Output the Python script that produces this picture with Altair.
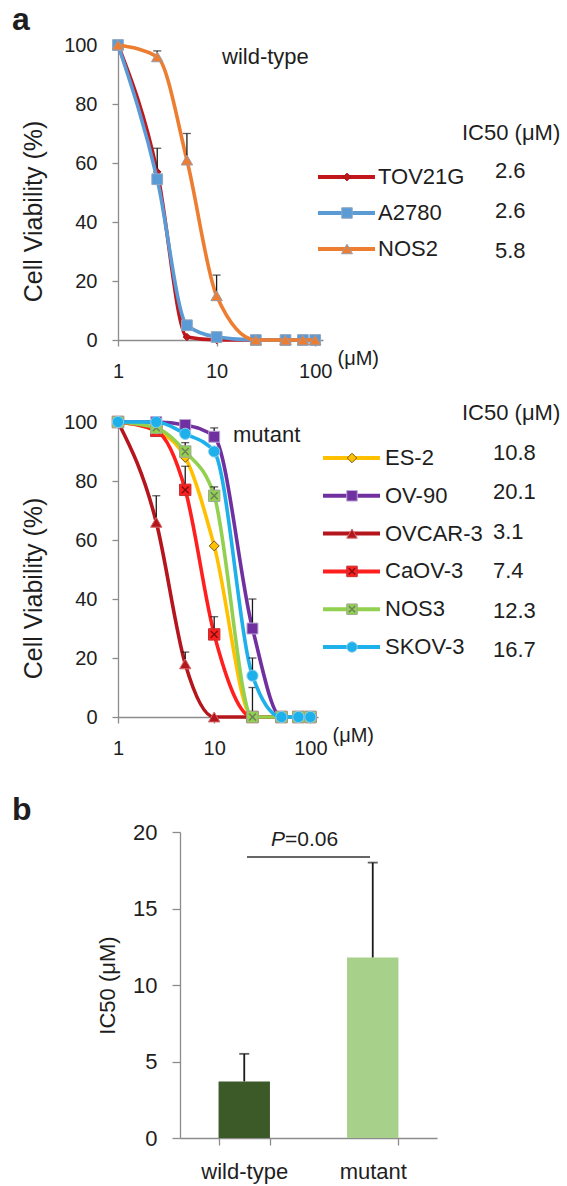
import altair as alt
import pandas as pd

FONT = "Liberation Sans, Arial, sans-serif"
TXT = "#1e1e1e"
AX = "#8c8c8c"
ERRC = "#1a1a1a"
XPATH = "M-0.6,-0.6L0.6,0.6M-0.6,0.6L0.6,-0.6"

# concentrations (uM)
conc = [1, 2.5, 5, 10, 25, 50, 75, 100]

# ---- wild-type panel ----
wt_names = ["TOV21G", "A2780", "NOS2"]
wt_ic50 = ["2.6", "2.6", "5.8"]
wt_values = [
    [100, 57, 1, 0, 0, 0, 0, 0],
    [100, 54.5, 5, 1, 0, 0, 0, 0],
    [100, 96, 61, 15, 0, 0, 0, 0],
]
wt_err = [
    [0, 8, 0, 0, 0, 0, 0, 0],
    [0, 0, 0, 0, 0, 0, 0, 0],
    [0, 2, 9, 7, 0, 0, 0, 0],
]
wt_colors = ["#c0161c", "#5b9bd5", "#ed7d31"]
wt_edges = ["#a01515", "#8ea6c2", "#9a9aa6"]
wt_shapes = ["diamond", "square", "triangle-up"]
wt_sizes = [55, 115, 130]
wt_cross = [None, None, None]

# ---- mutant panel ----
mut_names = ["ES-2", "OV-90", "OVCAR-3", "CaOV-3", "NOS3", "SKOV-3"]
mut_ic50 = ["10.8", "20.1", "3.1", "7.4", "12.3", "16.7"]
mut_values = [
    [100, 97, 88, 58, 0, 0, 0, 0],
    [100, 100, 99, 95, 30, 0, 0, 0],
    [100, 66, 18, 0, 0, 0, 0, 0],
    [100, 97, 77, 28, 0, 0, 0, 0],
    [100, 98, 90, 75, 0, 0, 0, 0],
    [100, 100, 96, 90, 14, 0, 0, 0],
]
mut_err = [
    [0, 0, 3, 0, 0, 0, 0, 0],
    [0, 0, 0, 3, 10, 0, 0, 0],
    [0, 9, 4, 0, 0, 0, 0, 0],
    [0, 0, 8, 6, 0, 0, 0, 0],
    [0, 0, 3, 3, 10, 0, 0, 0],
    [0, 0, 0, 0, 6, 0, 0, 0],
]
mut_colors = ["#ffc000", "#7030a0", "#b5151d", "#ff1f1f", "#92d050", "#1db0ea"]
mut_edges = ["#7a5a1a", "#b9a6d4", "#d36a6a", "#c43030", "#9fa894", "#86cdef"]
mut_shapes = ["diamond", "square", "triangle-up", "square", "square", "circle"]
mut_sizes = [100, 120, 130, 130, 130, 125]
mut_cross = [None, None, None, "#7a1010", "#6e7d5c", None]

# ---- IC50 bar panel ----
groups = ["wild-type", "mutant"]
ic50_mean = [3.7, 11.8]
ic50_sd = [1.8, 6.2]
bar_colors = ["#3b5a27", "#a7d18b"]
p_label = ["P", "=0.06"]


def long_df(names, values, errs):
    rows = []
    for n, vals, es in zip(names, values, errs):
        for c, v, e in zip(conc, vals, es):
            rows.append({"series": n, "conc": c, "v": v, "top": v + e, "err": e})
    return pd.DataFrame(rows)


def text_layer(txt, x, y, size=22, weight="normal", align="left", baseline="alphabetic", style="normal"):
    return alt.Chart(pd.DataFrame({"t": [txt]})).mark_text(
        fontSize=size, fontWeight=weight, align=align, baseline=baseline,
        fontStyle=style, font=FONT, color=TXT
    ).encode(text="t:N", x=alt.value(x), y=alt.value(y))


def legend_layers(names, ic50, colors, edges, shapes, sizes, cross, row_y, val_y, lx0, lx1, mx, nx, vx, hx, hy):
    """Manual legend (guide) with the IC50 column."""
    layers = []
    for i, n in enumerate(names):
        sub = alt.Chart(pd.DataFrame({"series": [n], "ic50": [ic50[i]]}))
        ry = alt.value(row_y[i])
        layers.append(sub.mark_rule(color=colors[i], strokeWidth=4)
                      .encode(x=alt.value(lx0), x2=alt.value(lx1), y=ry))
        layers.append(sub.mark_point(shape=shapes[i], filled=True, size=sizes[i], color=colors[i],
                                     fill=colors[i], stroke=edges[i], strokeWidth=1, opacity=1)
                      .encode(x=alt.value(mx), y=ry))
        if cross[i]:
            layers.append(sub.mark_point(shape=XPATH, filled=False, size=sizes[i], color=cross[i],
                                         stroke=cross[i], strokeWidth=1.4, opacity=1)
                          .encode(x=alt.value(mx), y=ry))
        layers.append(sub.mark_text(fontSize=22, align="left", baseline="middle", font=FONT, color=TXT)
                      .encode(text="series:N", x=alt.value(nx), y=ry))
        layers.append(sub.mark_text(fontSize=22, align="left", baseline="middle", font=FONT, color=TXT)
                      .encode(text="ic50:N", x=alt.value(vx), y=alt.value(val_y[i])))
    layers.append(text_layer("IC50 (μM)", hx, hy, baseline="middle"))
    return layers


def curve_panel(names, values, errs, colors, edges, shapes, sizes, cross, width, height, notes, legend):
    df = long_df(names, values, errs)
    xs = alt.Scale(type="log", domain=[1, 120], nice=False)
    ys = alt.Scale(domain=[0, 100], nice=False)
    xax = alt.Axis(values=[1, 10, 100], format="~g", labelFlush=False, labelOverlap=False,
                   tickSize=6, labelPadding=15, labelFontSize=20,
                   title="(μM)", titleX=width + 14, titleY=18, titleAlign="left",
                   titleBaseline="middle", titleFontSize=20, titleFontWeight="normal", titleAngle=0)
    yax = alt.Axis(values=[0, 20, 40, 60, 80, 100], tickSize=6, labelPadding=15, labelFontSize=20,
                   title="Cell Viability (%)", titleFontSize=25, titleFontWeight="normal",
                   titleX=-85, titleY=166, titleAngle=270, titleAlign="center", titleBaseline="middle")
    X = alt.X("conc:Q", scale=xs, axis=xax)

    def Y(f):
        return alt.Y(f + ":Q", scale=ys, axis=yax)

    layers = []
    for i, n in enumerate(names):
        sub = df[df.series == n]
        base = alt.Chart(sub)
        layers.append(base.mark_line(color=colors[i], strokeWidth=3.6, interpolate="monotone")
                      .encode(x=X, y=Y("v")))
        e = sub[sub.err > 0]
        if len(e):
            eb = alt.Chart(e)
            layers.append(eb.mark_rule(color=ERRC, strokeWidth=1.3).encode(x=X, y=Y("v"), y2="top:Q"))
            layers.append(eb.mark_tick(color=ERRC, size=8, thickness=1.3, orient="horizontal")
                          .encode(x=X, y=Y("top")))
        layers.append(base.mark_point(shape=shapes[i], filled=True, size=sizes[i], color=colors[i],
                                      fill=colors[i], stroke=edges[i], strokeWidth=1, opacity=1)
                      .encode(x=X, y=Y("v")))
        if cross[i]:
            layers.append(base.mark_point(shape=XPATH, filled=False, size=sizes[i], color=cross[i],
                                          stroke=cross[i], strokeWidth=1.4, opacity=1)
                          .encode(x=X, y=Y("v")))
    for nt in notes:
        layers.append(text_layer(*nt))
    layers += legend
    return alt.layer(*layers).properties(width=width, height=height)


top_leg = legend_layers(wt_names, wt_ic50, wt_colors, wt_edges, wt_shapes, [60, 110, 120], wt_cross,
                        [132, 168, 204], [126, 166, 206], 200, 257, 229, 260, 377, 344, 88)
top_curve = curve_panel(wt_names, wt_values, wt_err, wt_colors, wt_edges, wt_shapes, wt_sizes, wt_cross,
                        205, 295,
                        [("a", -106, -15, 32, "bold"), ("wild-type", 104, 19)], top_leg)

bot_leg = legend_layers(mut_names, mut_ic50, mut_colors, mut_edges, mut_shapes,
                        [90, 110, 110, 110, 110, 110], mut_cross,
                        [36 + i * 37.8 for i in range(6)], [31 + i * 39.4 for i in range(6)],
                        205, 262, 234, 267, 375, 344, -9)
bot_curve = curve_panel(mut_names, mut_values, mut_err, mut_colors, mut_edges, mut_shapes, mut_sizes, mut_cross,
                        200, 295, [("mutant", 115, 20)], bot_leg)

# ---- bar chart ----
BAR_TOP = 33
BAR_H = 306 + BAR_TOP
bar_df = pd.DataFrame({"group": groups, "mean": ic50_mean,
                       "top": [m + s for m, s in zip(ic50_mean, ic50_sd)]})
bx = alt.X("group:N", sort=groups,
           scale=alt.Scale(domain=groups, range=[62, 319], paddingInner=0.6, paddingOuter=0.3),
           axis=alt.Axis(tickBand="extent", labelAngle=0, labelFontSize=22, tickSize=7,
                         labelPadding=16, title=None))
yscale_b = alt.Scale(domain=[0, 20], nice=False, range=[BAR_H, BAR_TOP])
yaxis_b = alt.Axis(values=[0, 5, 10, 15, 20], offset=-62, tickSize=8, labelPadding=15, labelFontSize=22,
                   title="IC50 (μM)", titleFontSize=22, titleFontWeight="normal", titleX=-73,
                   titleY=BAR_TOP + 153, titleAngle=270, titleAlign="center", titleBaseline="middle")


def BY(f):
    return alt.Y(f + ":Q", scale=yscale_b, axis=yaxis_b)


bars = alt.Chart(bar_df).mark_bar().encode(
    x=bx, y=BY("mean"),
    color=alt.Color("group:N", scale=alt.Scale(domain=groups, range=bar_colors), legend=None))
err_rule = alt.Chart(bar_df).mark_rule(color=ERRC, strokeWidth=1.8).encode(x=bx, y=BY("mean"), y2="top:Q")
err_cap = alt.Chart(bar_df).mark_tick(color=ERRC, size=10, thickness=1.8).encode(x=bx, y=BY("top"))
sig = alt.Chart(pd.DataFrame({"s": [0]})).mark_rule(color="#333333", strokeWidth=1.6).encode(
    x=alt.value(129), x2=alt.value(252), y=alt.value(BAR_TOP + 25))
p1 = text_layer(p_label[0], 167, BAR_TOP + 8, 21, align="right", baseline="middle", style="italic")
p2 = text_layer(p_label[1], 167, BAR_TOP + 8, 21, align="left", baseline="middle")
blab = text_layer("b", -106, BAR_TOP - 12, 32, "bold")
bar_chart = alt.layer(bars, err_rule, err_cap, sig, p1, p2, blab).properties(width=319, height=BAR_H)

chart = alt.vconcat(top_curve, bot_curve, bar_chart, spacing=82, bounds="flush").properties(
    padding={"left": 12, "top": 4, "right": 0, "bottom": 6}
).configure_view(stroke=None).configure_axis(
    labelFont=FONT, titleFont=FONT, labelColor=TXT, titleColor=TXT,
    domainColor=AX, tickColor=AX, grid=False, domainWidth=1.3, tickWidth=1.3
).configure_text(font=FONT)

chart.save("out.html", embed_options={"renderer": "svg", "actions": False})
